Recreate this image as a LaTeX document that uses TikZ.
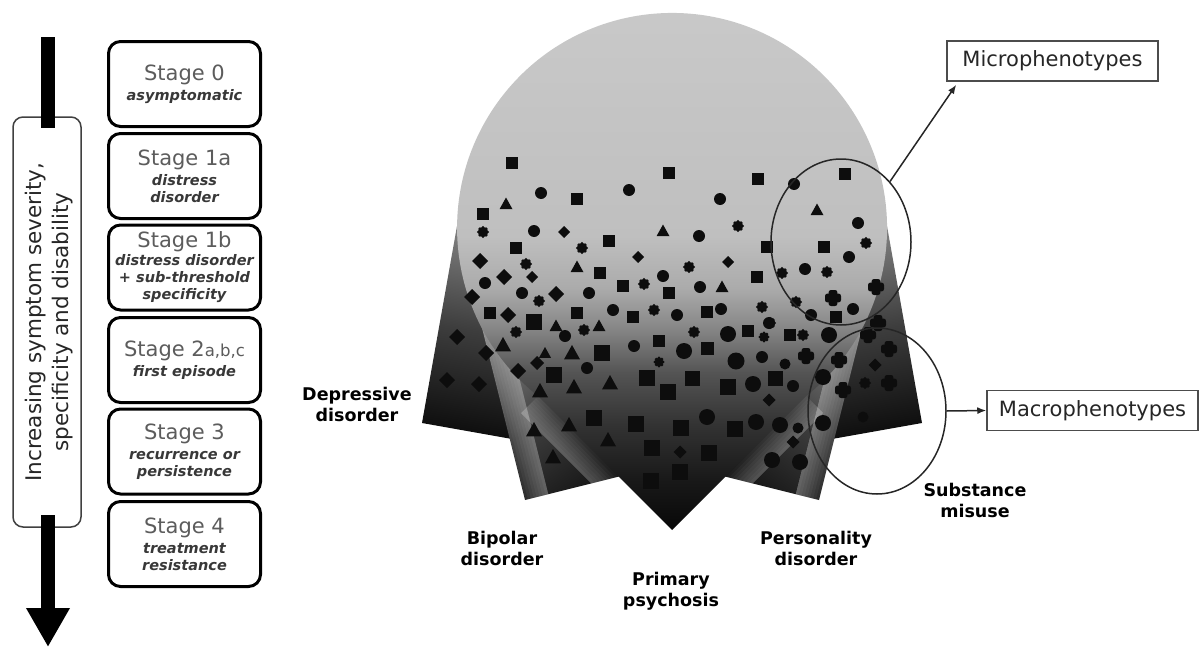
\documentclass[tikz,border=0pt]{standalone}
\usepackage{fontspec}
\setmainfont{DejaVu Sans}
\usetikzlibrary{arrows.meta,shapes.geometric}
\pgfdeclareverticalshading{bodysh}{100bp}{rgb(0bp)=(0.03,0.03,0.03); rgb(25bp)=(0.03,0.03,0.03); rgb(29.8bp)=(0.1,0.1,0.1); rgb(34.7bp)=(0.2,0.2,0.2); rgb(39.5bp)=(0.33,0.33,0.33); rgb(43.4bp)=(0.52,0.52,0.52); rgb(47.2bp)=(0.67,0.67,0.67); rgb(52.1bp)=(0.75,0.75,0.75); rgb(75bp)=(0.79,0.79,0.79); rgb(100bp)=(0.79,0.79,0.79)}
\definecolor{stagegray}{gray}{0.36}
\definecolor{subgray}{gray}{0.22}
\definecolor{boxline}{gray}{0.3}
\newcommand\stg[1]{{\fontsize{21}{17}\selectfont\color{stagegray}#1}}
\newcommand\sbt[1]{{\bfseries\itshape\color{subgray}#1}}
\begin{document}
\begin{tikzpicture}[x=1pt,y=-1pt,
  stagebox/.style={draw=black, line width=3pt, rounded corners=12pt, fill=white, minimum width=152pt, minimum height=85pt, inner sep=0pt, align=center, font=\fontsize{14.5}{17}\selectfont},
  dislabel/.style={font=\fontsize{17.5}{21}\selectfont\bfseries, align=center, inner sep=0pt},
  phenobox/.style={draw=boxline, line width=1.5pt, fill=white, minimum width=211pt, minimum height=40pt, inner sep=0pt, font=\fontsize{21}{24}\selectfont, text=black!85},
  ringstyle/.style={draw=black!85, line width=1.5pt, ellipse, inner sep=0pt},
  conn/.style={draw=black!85, line width=1.5pt, -{Latex[length=9pt,width=7pt]}},
  blob/.style={fill=black!95}
]
\useasboundingbox (0,0) rectangle (1203,648);

% ---------- left: severity arrow ----------
\node[draw=black!75, line width=1.5pt, rounded corners=10pt, fill=white, minimum width=68pt, minimum height=410pt, inner sep=0pt] (sevbox) at (47,322) {};
\node[rotate=90, align=center, font=\fontsize{21.5}{27}\selectfont, text=black!85] (sevtxt) at (49,322) {Increasing symptom severity,\\specificity and disability};
\coordinate (atop) at (48,37);
\coordinate (ain) at (48,128);
\coordinate (aout) at (48,515);
\coordinate (abot) at (48,647);
\draw[line width=14pt] (atop) -- (ain);
\draw[line width=14pt, -{Triangle[length=39pt,width=41pt]}] (aout) -- (abot);

% ---------- stage boxes ----------
\node[stagebox] (s0) at (184.5,84) {\stg{Stage 0}\\[3pt]\sbt{asymptomatic}};
\node[stagebox] (s1a) at (184.5,176) {\stg{Stage 1a}\\[3pt]\sbt{distress}\\\sbt{disorder}};
\node[stagebox] (s1b) at (184.5,267.5) {\stg{Stage 1b}\\[1pt]\sbt{distress disorder}\\\sbt{+ sub-threshold}\\\sbt{specificity}};
\node[stagebox] (s2) at (184.5,360) {\stg{Stage 2{\fontsize{16.5}{17}\selectfont a,b,c}}\\[3pt]\sbt{first episode}};
\node[stagebox] (s3) at (184.5,451.5) {\stg{Stage 3}\\[3pt]\sbt{recurrence or}\\\sbt{persistence}};
\node[stagebox] (s4) at (184.5,544) {\stg{Stage 4}\\[3pt]\sbt{treatment}\\\sbt{resistance}};

% ---------- central figure: petals ----------
\shade[top color=black!45, bottom color=black!97, middle color=black!76, shading angle=-10]
  (422,423) -- (457,226) -- (654,261) -- (619,458) -- cycle;
\shade[top color=black!45, bottom color=black!97, middle color=black!76, shading angle=10]
  (922,423) -- (887,226) -- (690,261) -- (725,458) -- cycle;
\shade[top color=black!42, bottom color=black!97, middle color=black!76, shading angle=35]
  (525,500) -- (479,316) -- (663,270) -- (709,454) -- cycle;
\shade[top color=black!42, bottom color=black!97, middle color=black!76, shading angle=-35]
  (819,500) -- (865,316) -- (681,270) -- (635,454) -- cycle;
% edge highlights (soft bands)
\foreach \i in {0,...,7}{
  \pgfmathsetmacro{\o}{0.045}
  \fill[white, opacity=\o] (479+2.91*\i,316-0.725*\i) -- (525+2.91*\i,500-0.725*\i) -- (525+23.3,500-5.8) -- (479+23.3,316-5.8) -- cycle;
  \fill[white, opacity=\o] (865-2.91*\i,316-0.725*\i) -- (819-2.91*\i,500-0.725*\i) -- (819-23.3,500-5.8) -- (865-23.3,316-5.8) -- cycle;
}
\begin{scope}
  \clip (525,500) -- (479,316) -- (663,270) -- (709,454) -- cycle;
  \foreach \i in {0,...,7}
    \fill[white, opacity=0.035] (618.6-2.12*\i,476.6+2.12*\i) -- (538-2.12*\i,396+2.12*\i) -- (538-17,396+17) -- (618.6-17,476.6+17) -- cycle;
\end{scope}
\begin{scope}
  \clip (819,500) -- (865,316) -- (681,270) -- (635,454) -- cycle;
  \foreach \i in {0,...,7}
    \fill[white, opacity=0.035] (725.4+2.12*\i,476.6+2.12*\i) -- (806+2.12*\i,396+2.12*\i) -- (806+17,396+17) -- (725.4+17,476.6+17) -- cycle;
\end{scope}
% body: circle + psychosis point
\shade[shading=bodysh] (538,396) arc[start angle=128.58, end angle=411.42, radius=215] -- (672,530) -- cycle;

% ---------- markers ----------
\foreach \px/\py/\ps in {512/163/12, 577/199/12, 669/173/12, 758/179/12, 845/174/12, 483/214/12, 609/241/12, 516/248/12, 767/247/12, 824/247/12, 600/273/12, 757/277/12, 623/286/12, 669/293/12, 490/313/12, 577/313/12, 534/322/16, 633/317/12, 707/312/12, 836/317/12, 748/331/12, 790/335/12, 659/341/12, 707/348/13, 602/353/16, 554/375/16, 647/378/16, 692/378/15, 775/378/15, 728/387/16, 668/392/16, 594/418/16, 636/424/16, 681/428/16, 735/429/16, 652/448/16, 709/453/16, 680/472/16, 651/481/16}
  \fill[blob] (\px-\ps/2,\py-\ps/2) rectangle (\px+\ps/2,\py+\ps/2);
\foreach \px/\py/\ps in {541/193/12, 629/190/12, 720/199/12, 794/184/12, 534/231/12, 699/236/12, 858/223/12, 849/257/12, 663/276/12, 805/269/12, 485/283/12, 522/293/12, 589/293/12, 700/287/12, 613/310/12, 677/315/12, 721/309/12, 853/309/12, 811/315/12, 769/323/12, 565/336/12, 587/368/12, 634/346/12, 829/335/16, 728/334/16, 684/351/16, 762/357/12, 736/361/17, 785/364/11, 823/377/16, 753/384/16, 793/386/12, 707/417/16, 756/422/16, 780/425/16, 798/428/11, 823/423/16, 863/417/11, 772/460/16, 800/462/16}
  \fill[blob] (\px,\py) circle[radius=\ps/2];
\foreach \px/\py/\ps in {506/204/13, 663/231/13, 817/210/13, 577/267/13, 722/287/13, 556/326/13, 599/326/13, 503/345/16, 545/353/12, 572/353/16, 540/391/16, 574/387/16, 610/383/16, 534/430/16, 569/425/16, 608/440/16, 553/457/16}
  \fill[blob] (\px,\py-0.5*\ps) -- (\px+0.5*\ps,\py+0.4*\ps) -- (\px-0.5*\ps,\py+0.4*\ps) -- cycle;
\foreach \px/\py/\ps in {564/232/12, 638/257/12, 728/262/12, 480/261/16, 504/277/16, 532/277/12, 472/297/16, 556/294/16, 508/315/16, 457/337/16, 486/353/16, 537/363/14, 518/371/16, 447/380/16, 479/384/16, 769/400/13, 793/442/13, 680/452/13, 875/365/13}
  \fill[blob] (\px,\py-\ps/2) -- (\px+\ps/2,\py) -- (\px,\py+\ps/2) -- (\px-\ps/2,\py) -- cycle;
\foreach \px/\py/\ps in {483/232/12, 738/226/12, 866/243/12, 582/248/12, 526/264/12, 689/267/12, 782/273/12, 827/272/12, 644/284/12, 539/301/12, 796/302/12, 762/307/12, 654/310/12, 770/323/12, 516/332/12, 584/330/12, 694/332/12, 803/335/12, 764/337/11, 659/362/11, 865/383/12}{
  \fill[blob] (\px,\py) circle[radius=0.4*\ps];
  \foreach \a in {0,45,...,315}
    \fill[blob] (\px,\py) ++(\a:0.36*\ps) circle[radius=0.15*\ps];
}
\foreach \px/\py/\ps in {876/287/16, 833/298/16, 878/323/16, 868/335/16, 889/349/16, 806/356/16, 839/360/16, 889/383/16, 843/390/16}{
  \fill[blob, rounded corners=2.5pt] (\px-\ps/2,\py-0.28*\ps) rectangle (\px+\ps/2,\py+0.28*\ps);
  \fill[blob, rounded corners=2.5pt] (\px-0.28*\ps,\py-\ps/2) rectangle (\px+0.28*\ps,\py+\ps/2);
  \fill[blob] (\px,\py) circle[radius=0.36*\ps];
}

% ---------- ellipses and phenotype boxes ----------
\node[ringstyle, minimum width=140pt, minimum height=166pt] (micro) at (841,242) {};
\node[ringstyle, minimum width=138pt, minimum height=166pt] (macro) at (877,411) {};
\node[phenobox] (microbox) at (1052.5,61) {Microphenotypes};
\node[phenobox] (macrobox) at (1092.5,410.5) {Macrophenotypes};
\draw[conn] (micro.51) -- ([xshift=10pt,yshift=-3pt]microbox.south west);
\draw[conn] (macro.east) -- (macrobox.west);

% ---------- disorder labels ----------
\node[dislabel] (dep) at (357,404.5) {Depressive\\disorder};
\node[dislabel] (bip) at (502,548.5) {Bipolar\\disorder};
\node[dislabel] (psy) at (671,591.5) {Primary\\psychosis};
\node[dislabel] (per) at (816,548) {Personality\\disorder};
\node[dislabel] (sub) at (975,500.5) {Substance\\misuse};
\end{tikzpicture}
\end{document}
